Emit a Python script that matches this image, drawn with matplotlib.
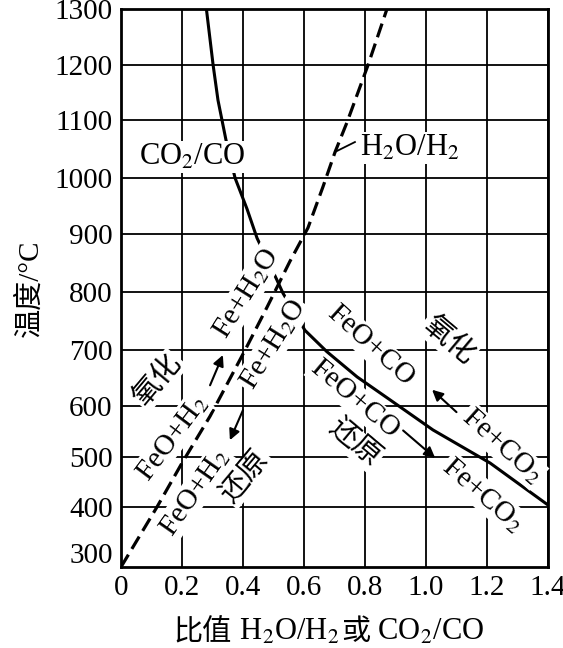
import numpy as np
import matplotlib
matplotlib.use("Agg")
import matplotlib.pyplot as plt
from matplotlib.offsetbox import TextArea, HPacker, AnchoredOffsetbox

plt.rcParams['font.family'] = ['Liberation Serif', 'Noto Sans CJK SC']
plt.rcParams['mathtext.fontset'] = 'stix'

# =====================
# Data
# =====================
co_ratio = [0.280, 0.302, 0.318, 0.344, 0.374, 0.413, 0.446, 0.511, 0.531, 0.603, 0.675, 0.774, 0.882, 1.023, 1.21, 1.40]
co_temp = [1300, 1200, 1136, 1066, 1000, 945, 893, 821, 798, 734, 697, 652, 611, 553, 488, 404]

h2_ratio = [0.0, 0.118, 0.20, 0.292, 0.407, 0.479, 0.554, 0.613, 0.662, 0.702, 0.741, 0.810, 0.872]
h2_temp = [272, 400, 488, 580, 700, 774, 853, 911, 984, 1045, 1096, 1200, 1300]

x_ticks = [0, 0.2, 0.4, 0.6, 0.8, 1.0, 1.2, 1.4]
x_tick_labels = ["0", "0.2", "0.4", "0.6", "0.8", "1.0", "1.2", "1.4"]
y_ticks = [300, 400, 500, 600, 700, 800, 900, 1000, 1100, 1200, 1300]

# label text, x, y, rotation
region_labels = [
    ("FeO+H$_2$", 0.167, 537, 53),
    ("Fe+H$_2$O", 0.41, 798, 58),
    ("Fe+H$_2$O", 0.498, 709, 58),
    ("FeO+H$_2$", 0.243, 430, 55),
    ("氧化", 0.121, 646, 50),
    ("还原", 0.41, 460, 50),
    ("FeO+CO", 0.82, 707, -42),
    ("Fe+CO$_2$", 1.249, 522, -42),
    ("氧化", 1.072, 717, -40),
    ("FeO+CO", 0.767, 612, -40),
    ("还原", 0.764, 527, -40),
    ("Fe+CO$_2$", 1.187, 424, -41),
]

# arrows: (start x, start y, end x, end y)
reaction_arrows = [
    (0.292, 637, 0.334, 691),
    (0.40, 592, 0.357, 533),
    (1.10, 588, 1.02, 629),
    (0.925, 552, 1.03, 498),
]

# the scanned temperature axis is not evenly spaced; follow its gridline spacing
scale_temp = [250, 300, 400, 500, 600, 700, 800, 900, 1000, 1100, 1200, 1300, 1350]
scale_pos = [-11, 14, 60, 110, 161, 217, 275, 333, 389, 447, 502, 558, 586]


def fwd(t):
    return np.interp(t, scale_temp, scale_pos)


def inv(p):
    return np.interp(p, scale_pos, scale_temp)


# =====================
# Plot
# =====================
fig = plt.figure(figsize=(5.63, 6.48), dpi=100)
ax = fig.add_axes([121 / 563, 81 / 648, 427 / 563, 558 / 648])
ax.set_yscale('function', functions=(fwd, inv))

ax.plot(co_ratio, co_temp, color='black', lw=2.2, zorder=3)
ax.plot(h2_ratio, h2_temp, color='black', lw=2.3, dashes=(4.5, 2.1), zorder=3)

ax.set_xlim(0, 1.4)
ax.set_ylim(272, 1300)
ax.set_xticks(x_ticks)
ax.set_xticklabels(x_tick_labels)
ax.set_yticks(y_ticks)
ax.set_yticklabels([str(t) for t in y_ticks])
ax.minorticks_off()
ax.tick_params(length=0, labelsize=21, pad=6)
ax.grid(True, color='black', lw=1.3)
ax.get_ygridlines()[0].set_visible(False)
ax.set_axisbelow(True)
for sp in ax.spines.values():
    sp.set_linewidth(2)

ax.set_ylabel("温度/°C", fontsize=21, labelpad=8)

# x label mixes CJK and subscripts, so build it from pieces
cjk = dict(family='Noto Sans CJK SC', size=21)
lat = dict(size=22)
parts = [TextArea("比值", textprops=cjk), TextArea(" H$_2$O/H$_2$ ", textprops=lat),
         TextArea("或", textprops=cjk), TextArea(" CO$_2$/CO", textprops=lat)]
xlab = HPacker(children=parts, pad=0, sep=0, align='baseline')
fig.add_artist(AnchoredOffsetbox(loc='center', child=xlab, frameon=False, pad=0,
                                 bbox_to_anchor=(329 / 563, 1 - 632 / 648),
                                 bbox_transform=fig.transFigure))

box = dict(boxstyle='square,pad=0.05', fc='white', ec='none')

ax.text(0.233, 1036, "CO$_2$/CO", fontsize=22, ha='center', va='center', bbox=box, zorder=5)
ax.text(0.948, 1052, "H$_2$O/H$_2$", fontsize=22, ha='center', va='center', bbox=box, zorder=5)
ax.plot([0.702, 0.767], [1045, 1062], color='black', lw=1.3, zorder=4)

for txt, x, y, rot in region_labels:
    ax.text(x, y, txt, fontsize=21, ha='center', va='center', rotation=rot,
            rotation_mode='anchor', bbox=box, zorder=5)

for x0, y0, x1, y1 in reaction_arrows:
    ax.annotate('', xy=(x1, y1), xytext=(x0, y0),
                arrowprops=dict(arrowstyle='-|>', color='black', lw=1.5, mutation_scale=16,
                                shrinkA=0, shrinkB=0), zorder=6)

fig.savefig("out.png", dpi=100)
